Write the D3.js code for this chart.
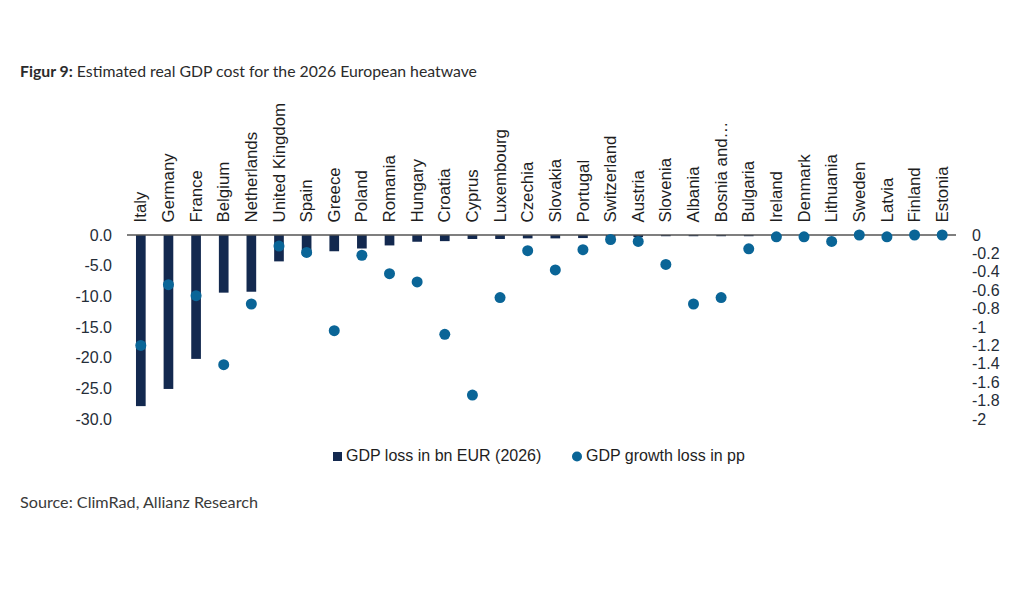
<!DOCTYPE html>
<html>
<head>
<meta charset="utf-8">
<script src="https://cdn.jsdelivr.net/npm/d3@7"></script>
<style>
  html, body { margin: 0; padding: 0; background: #fff; }
  svg { display: block; }
</style>
</head>
<body>
<svg id="chart"></svg>
<script>
const outerWidth = 1036;
const outerHeight = 594;

const countries = ["Italy", "Germany", "France", "Belgium", "Netherlands", "United Kingdom", "Spain",
    "Greece", "Poland", "Romania", "Hungary", "Croatia", "Cyprus", "Luxembourg", "Czechia", "Slovakia",
    "Portugal", "Switzerland", "Austria", "Slovenia", "Albania", "Bosnia and…", "Bulgaria", "Ireland",
    "Denmark", "Lithuania", "Sweden", "Latvia", "Finland", "Estonia"];

// GDP loss in bn EUR (2026), left axis
const gdpLoss = [-27.9, -25.1, -20.2, -9.4, -9.25, -4.3, -3.2, -2.65, -2.2, -1.7, -1.1, -1.0, -0.65,
    -0.65, -0.55, -0.55, -0.5, -0.4, -0.35, -0.2, -0.2, -0.2, -0.2, -0.1, -0.1, -0.1, -0.05, -0.05,
    -0.05, -0.05];

// GDP growth loss in pp, right axis
const growthLoss = [-1.2, -0.54, -0.66, -1.41, -0.75, -0.12, -0.19, -1.04, -0.22, -0.42, -0.51, -1.08,
    -1.74, -0.68, -0.17, -0.38, -0.16, -0.05, -0.07, -0.32, -0.75, -0.68, -0.15, -0.02, -0.02, -0.07,
    0, -0.02, 0, 0];

const leftTicks = [0, -5, -10, -15, -20, -25, -30];
const rightTicks = [0, -0.2, -0.4, -0.6, -0.8, -1, -1.2, -1.4, -1.6, -1.8, -2];

const seriesNames = ["GDP loss in bn EUR (2026)", "GDP growth loss in pp"];
const barColor = "#13294f";
const dotColor = "#0a6597";

const plot = { left: 127, right: 956, top: 235, bottom: 419 };

const svg = d3.select("#chart")
    .attr("width", outerWidth)
    .attr("height", outerHeight)
    .style("font-family", "'Liberation Sans', Arial, sans-serif");

const x = d3.scaleBand().domain(countries).range([plot.left, plot.right]);
const yLeft = d3.scaleLinear().domain([-30, 0]).range([plot.bottom, plot.top]);
const yRight = d3.scaleLinear().domain([-2, 0]).range([plot.bottom, plot.top]);

const barWidth = x.bandwidth() * 0.35;

// title
const title = svg.append("text")
    .attr("x", 20)
    .attr("y", 77)
    .style("font-family", "Lato, 'Open Sans', sans-serif")
    .style("font-size", "15.8px")
    .style("fill", "#2b2b2b");
title.append("tspan").style("font-weight", "bold").text("Figur 9:");
title.append("tspan").text(" Estimated real GDP cost for the 2026 European heatwave");

// bars (negative values hang down from the zero line)
svg.append("g")
    .selectAll("rect")
    .data(countries)
    .join("rect")
    .attr("x", (d) => x(d) + (x.bandwidth() - barWidth) / 2)
    .attr("y", yLeft(0))
    .attr("width", barWidth)
    .attr("height", (d, i) => yLeft(gdpLoss[i]) - yLeft(0))
    .attr("fill", barColor);

// zero line
svg.append("line")
    .attr("x1", plot.left)
    .attr("x2", plot.right)
    .attr("y1", yLeft(0))
    .attr("y2", yLeft(0))
    .attr("stroke", "#555")
    .attr("stroke-width", 1.5);

// dots
svg.append("g")
    .selectAll("circle")
    .data(countries)
    .join("circle")
    .attr("cx", (d) => x(d) + x.bandwidth() / 2)
    .attr("cy", (d, i) => yRight(growthLoss[i]))
    .attr("r", 5.5)
    .attr("fill", dotColor);

// left axis
const leftAxis = svg.append("g")
    .attr("transform", `translate(${plot.left},0)`)
    .call(d3.axisLeft(yLeft).tickValues(leftTicks).tickSize(0).tickPadding(15)
        .tickFormat((d) => d.toFixed(1)));
leftAxis.select(".domain").remove();

// right axis
const rightAxis = svg.append("g")
    .attr("transform", `translate(${plot.right},0)`)
    .call(d3.axisRight(yRight).tickValues(rightTicks).tickSize(0).tickPadding(16)
        .tickFormat((d) => String(+d.toFixed(1))));
rightAxis.select(".domain").remove();

svg.selectAll(".tick text")
    .style("font-size", "16px")
    .style("font-family", "'Liberation Sans', Arial, sans-serif")
    .style("fill", "#252d38");

// category labels, rotated
const catAxis = svg.append("g")
    .attr("transform", `translate(0,${yLeft(0)})`)
    .call(d3.axisTop(x).tickSize(0));
catAxis.select(".domain").remove();
catAxis.selectAll(".tick text")
    .attr("x", 12)
    .attr("y", 0)
    .attr("dy", "0.35em")
    .attr("transform", "rotate(-90) scale(1.05,1)")
    .style("text-anchor", "start")
    .style("font-size", "16px")
    .style("font-family", "'Liberation Sans', Arial, sans-serif")
    .style("fill", "#1e1e1e");

// legend
const legend = svg.append("g").attr("transform", "translate(333,461)");
legend.append("rect")
    .attr("x", 0).attr("y", -9)
    .attr("width", 9).attr("height", 9)
    .attr("fill", barColor);
legend.append("text")
    .attr("x", 13).attr("y", 0)
    .style("font-size", "16px")
    .style("fill", "#1e1e1e")
    .text(seriesNames[0]);
legend.append("circle")
    .attr("cx", 244).attr("cy", -4.5)
    .attr("r", 5)
    .attr("fill", dotColor);
legend.append("text")
    .attr("x", 253).attr("y", 0)
    .style("font-size", "16px")
    .style("fill", "#1e1e1e")
    .text(seriesNames[1]);

// source
svg.append("text")
    .attr("x", 20)
    .attr("y", 508)
    .style("font-family", "Lato, 'Open Sans', sans-serif")
    .style("font-size", "16.2px")
    .style("fill", "#3a3a3a")
    .text("Source: ClimRad, Allianz Research");
</script>
</body>
</html>
